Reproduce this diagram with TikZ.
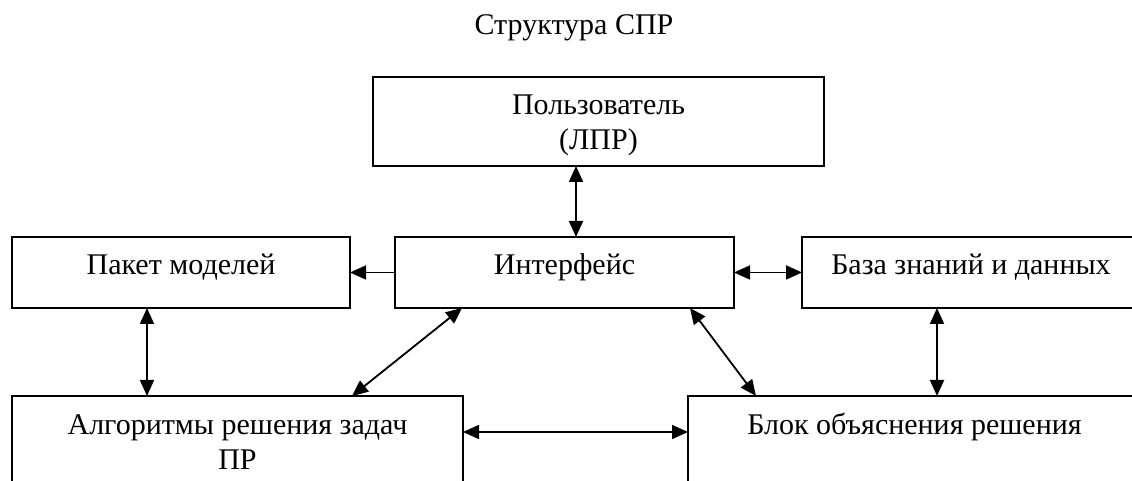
\documentclass[tikz,border=0pt]{standalone}
\usepackage{fontspec}
\setmainfont{Liberation Serif}
\usetikzlibrary{arrows.meta,calc}
\tikzset{
  box/.style={draw, line width=1.8pt, rectangle, inner sep=0pt, outer sep=0pt, anchor=north west},
  lbl/.style={anchor=base, inner sep=0pt, align=center, font=\fontsize{30}{35}\selectfont},
  conn/.style={line width=1.8pt, -{Triangle[length=16pt,width=14pt]}},
  dconn/.style={line width=1.8pt, {Triangle[length=16pt,width=14pt]}-{Triangle[length=16pt,width=14pt]}},
}
\begin{document}
\begin{tikzpicture}[x=1pt,y=1pt]
\useasboundingbox (0,0) rectangle (1132,481);
\clip (0,0) rectangle (1132,481);
\node[lbl] (title) at (574,446) {Структура СПР};
\node[box, minimum width=451pt, minimum height=89pt] (u) at (373,404) {};
\node[box, minimum width=339pt, minimum height=71pt] (i) at (395,244) {};
\node[box, minimum width=338pt, minimum height=71pt] (p) at (12,244) {};
\node[box, minimum width=338pt, minimum height=71pt] (b) at (802,244) {};
\node[box, minimum width=451pt, minimum height=110pt] (a) at (12,85) {};
\node[box, minimum width=453pt, minimum height=110pt] (k) at (688,85) {};
\node[lbl] (ut) at (598.5,331) {Пользователь\\(ЛПР)};
\node[lbl] (it) at (564.5,206) {Интерфейс};
\node[lbl] (pt) at (181,206) {Пакет моделей};
\node[lbl] (bt) at (971,206) {База знаний и данных};
\node[lbl] (at) at (237.5,11) {Алгоритмы решения задач\\ПР};
\node[lbl] (kt) at (914.5,46) {Блок объяснения решения};
\draw[dconn] ($(u.south west)+(203,0)$) -- ($(i.north west)+(181,0)$);
\draw[conn] (i.west) -- (p.east);
\draw[dconn] (i.east) -- (b.west);
\draw[dconn] ($(p.south west)+(135,0)$) -- ($(a.north west)+(135,0)$);
\draw[dconn] ($(b.south west)+(135,0)$) -- ($(k.north west)+(249,0)$);
\draw[dconn] ($(i.south west)+(67,0)$) -- ($(a.north west)+(340,0)$);
\draw[dconn] ($(i.south west)+(295,0)$) -- ($(k.north west)+(68,0)$);
\draw[dconn] ($(a.north east)+(0,-36)$) -- ($(k.north west)+(0,-36)$);
\end{tikzpicture}
\end{document}
